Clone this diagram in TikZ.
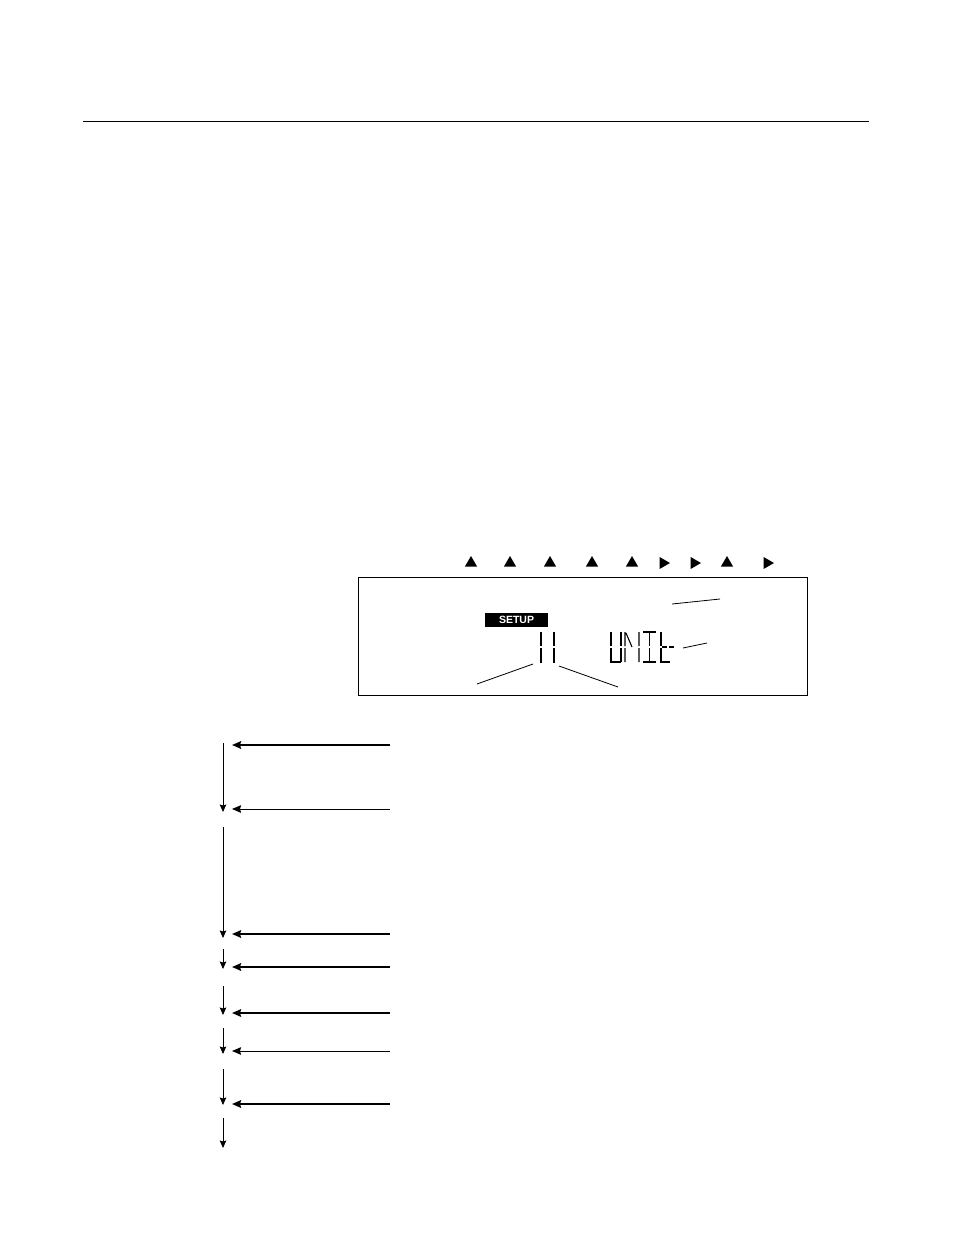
\documentclass[tikz,border=0pt]{standalone}
\usepackage{fontspec}
\setmainfont{Liberation Sans}
\usetikzlibrary{arrows.meta,shapes.geometric}
\begin{document}
\begin{tikzpicture}[x=1pt,y=-1pt,
  downarr/.style={line width=0.9pt,-{Stealth[length=7.5pt,width=6.5pt,inset=1pt]}},
  thickarr/.style={line width=2pt,-{Stealth[length=9pt,width=7.5pt,inset=1pt]}},
  thinarr/.style={line width=1pt,-{Stealth[length=9pt,width=7.5pt,inset=1pt]}},
  uptri/.style={regular polygon,regular polygon sides=3,fill=black,inner sep=0pt,minimum size=14pt},
  righttri/.style={uptri,shape border rotate=-90},
  seg/.style={line width=1.1pt},
  leader/.style={line width=0.8pt}
]
\useasboundingbox (0,0) rectangle (954,1235);

% top rule
\coordinate (ruleL) at (83,121);
\coordinate (ruleR) at (869,121);
\draw[line width=1pt] (ruleL) -- (ruleR);

% indicator triangles
\node[uptri] (t1) at (471,563) {};
\node[uptri] (t2) at (510,563) {};
\node[uptri] (t3) at (550,563) {};
\node[uptri] (t4) at (592,563) {};
\node[uptri] (t5) at (632,563) {};
\node[righttri] (t6) at (663,563) {};
\node[righttri] (t7) at (694,563) {};
\node[uptri] (t8) at (727,563) {};
\node[righttri] (t9) at (767,563) {};

% LCD frame
\node[draw,line width=1pt,minimum width=449pt,minimum height=118pt,inner sep=0pt] (lcd) at (582.5,636) {};

% SETUP label
\node[fill=black,text=white,font=\bfseries\fontsize{10.5}{10.5}\selectfont,minimum width=63pt,minimum height=14pt,inner sep=0pt] (setup) at (516.5,620) {SETUP};

% segmented "11"
\draw[seg] (541,632) -- (541,646) (541,648) -- (541,663);
\draw[seg] (554,632) -- (554,646) (554,648) -- (554,663);

% segmented "UNIt"
% U
\draw[seg] (611,632) -- (611,646) (611,648) -- (611,662) -- (621,662) (621,632) -- (621,646) (621,648) -- (621,662);
% N
\draw[seg] (625,632) -- (625,646) (625,648) -- (625,662) (626,633) -- (632,647) (639,632) -- (639,646) (639,648) -- (639,662);
% I
\draw[seg] (643,632) -- (656,632) (649.5,633) -- (649.5,646) (649.5,648) -- (649.5,661) (643,662) -- (656,662);
% t
\draw[seg] (661,632) -- (661,646) (661,648) -- (661,662) -- (670,662) (662,647) -- (667,647) (669,647) -- (674,647);

% leader lines
\coordinate (l1a) at (672,604); \coordinate (l1b) at (720,599);
\coordinate (l2a) at (683,648); \coordinate (l2b) at (707,643);
\coordinate (l3a) at (533,664); \coordinate (l3b) at (477,684);
\coordinate (l4a) at (559,666); \coordinate (l4b) at (618,687);
\draw[leader] (l1a) -- (l1b);
\draw[leader] (l2a) -- (l2b);
\draw[leader] (l3a) -- (l3b);
\draw[leader] (l4a) -- (l4b);

% flow: vertical arrows
\coordinate (v1a) at (223,743);  \coordinate (v1b) at (223,812);
\coordinate (v2a) at (223,827);  \coordinate (v2b) at (223,938);
\coordinate (v3a) at (223,949);  \coordinate (v3b) at (223,969);
\coordinate (v4a) at (223,986);  \coordinate (v4b) at (223,1015);
\coordinate (v5a) at (223,1028); \coordinate (v5b) at (223,1054);
\coordinate (v6a) at (223,1069); \coordinate (v6b) at (223,1105);
\coordinate (v7a) at (223,1118); \coordinate (v7b) at (223,1148);
\foreach \i in {1,...,7}{\draw[downarr] (v\i a) -- (v\i b);}

% flow: horizontal arrows
\coordinate (h1a) at (390,745);  \coordinate (h1b) at (232,745);
\coordinate (h2a) at (390,809);  \coordinate (h2b) at (232,809);
\coordinate (h3a) at (390,934);  \coordinate (h3b) at (232,934);
\coordinate (h4a) at (390,967);  \coordinate (h4b) at (232,967);
\coordinate (h5a) at (390,1013); \coordinate (h5b) at (232,1013);
\coordinate (h6a) at (390,1051); \coordinate (h6b) at (232,1051);
\coordinate (h7a) at (390,1104); \coordinate (h7b) at (232,1104);
\draw[thickarr] (h1a) -- (h1b);
\draw[thinarr]  (h2a) -- (h2b);
\draw[thickarr] (h3a) -- (h3b);
\draw[thickarr] (h4a) -- (h4b);
\draw[thickarr] (h5a) -- (h5b);
\draw[thinarr]  (h6a) -- (h6b);
\draw[thickarr] (h7a) -- (h7b);
\end{tikzpicture}
\end{document}
